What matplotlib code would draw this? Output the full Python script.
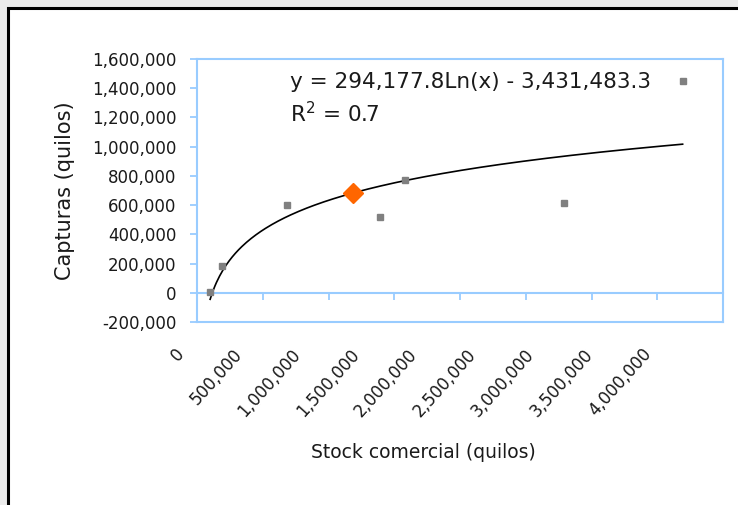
import matplotlib
matplotlib.use("Agg")
import matplotlib.pyplot as plt
import numpy as np
from matplotlib.patches import Rectangle
from matplotlib.ticker import FuncFormatter

# ---- data ----
stock_gray = [100000, 192000, 682000, 1392000, 1584000, 2793000, 3693000]
capt_gray = [5000, 180000, 599000, 519000, 774000, 613000, 1448000]
stock_hl = [1186000]
capt_hl = [681000]
# logarithmic trendline shown in the chart: y = a*ln(x) + b
trend_a = 294177.8
trend_b = -3431483.3
x_ticks = [0, 500000, 1000000, 1500000, 2000000, 2500000, 3000000, 3500000, 4000000]
y_ticks = [-200000, 0, 200000, 400000, 600000, 800000, 1000000, 1200000, 1400000, 1600000]
eq_text = "y = 294,177.8Ln(x) - 3,431,483.3"
r2_text = "R$^2$ = 0.7"
x_title = "Stock comercial (quilos)"
y_title = "Capturas (quilos)"

plt.rcParams['font.family'] = ['DejaVu Sans']
plt.rcParams['mathtext.default'] = 'regular'

BLUE = '#99ccff'
TXT = '#1a1a1a'
W, H = 738, 505
fig = plt.figure(figsize=(W / 100, H / 100), dpi=100, facecolor='#ebebeb')

# white chart area with dark border on top/left
fig.patches.append(Rectangle((8 / W, -0.05), 1.1, (H - 8) / H + 0.05, transform=fig.transFigure,
                             facecolor='white', edgecolor='black', linewidth=2.2, zorder=-10))

ax = fig.add_axes([197 / W, (H - 322) / H, (723 - 197) / W, (322 - 59) / H])
ax.set_zorder(1)
ax.set_xlim(0, 4000000)
ax.set_ylim(-200000, 1600000)
ax.set_facecolor('white')
for s in ax.spines.values():
    s.set_color(BLUE)
    s.set_linewidth(1.5)

fmt = FuncFormatter(lambda v, p: f"{int(round(v)):,}")
ax.set_yticks(y_ticks)
ax.yaxis.set_major_formatter(fmt)
ax.tick_params(axis='y', direction='out', length=5, width=1.3, color=BLUE,
               labelsize=12, labelcolor=TXT, pad=10)

# primary x axis: no visible ticks/labels on the frame bottom
ax.set_xticks(x_ticks)
ax.tick_params(axis='x', length=0, labelbottom=False)

# zero line with tick marks
zero_loc = (0 - (-200000)) / 1800000
zx = ax.secondary_xaxis(zero_loc)
zx.set_xticks(x_ticks)
zx.tick_params(axis='x', direction='out', length=5, width=1.3, color=BLUE, labelbottom=False)
zx.spines['bottom'].set_color(BLUE)
zx.spines['bottom'].set_linewidth(1.5)

# rotated category labels beneath the frame (spaced as in the reference)
lab = fig.add_axes([181 / W, (H - 322) / H, 467 / W, (322 - 59) / H])
lab.set_zorder(2)
lab.patch.set_visible(False)
for s in lab.spines.values():
    s.set_visible(False)
lab.set_xlim(0, 4000000)
lab.set_yticks([])
lab.set_xticks(x_ticks)
lab.xaxis.set_major_formatter(fmt)
lab.tick_params(axis='x', length=0, pad=21, labelsize=12, labelcolor=TXT)
for t in lab.get_xticklabels():
    t.set_rotation(48)
    t.set_ha('right')
    t.set_va('center')
    t.set_rotation_mode('anchor')

# trendline
xs = np.linspace(min(stock_gray + stock_hl), max(stock_gray + stock_hl), 300)
ax.plot(xs, trend_a * np.log(xs) + trend_b, color='black', linewidth=1.2, zorder=3)

ax.plot(stock_gray, capt_gray, linestyle='none', marker='s', markersize=5,
        color='#808080', zorder=4)
ax.plot(stock_hl, capt_hl, linestyle='none', marker='D', markersize=10,
        color='#ff6600', zorder=5)

ax.text((290 - 197) / 526, (322 - 88) / 263, eq_text, transform=ax.transAxes,
        fontsize=15.5, color=TXT, va='baseline', ha='left')
ax.text((290 - 197) / 526, (322 - 122) / 263, r2_text, transform=ax.transAxes,
        fontsize=15.5, color=TXT, va='baseline', ha='left')

ax.set_ylabel(y_title, fontsize=15, color=TXT, labelpad=12)
ax.set_xlabel(x_title, fontsize=13.5, color=TXT, va='center')
ax.xaxis.set_label_coords((423 - 197) / 526, (322 - 453) / 263)

fig.savefig('out.png', dpi=100, facecolor=fig.get_facecolor())
